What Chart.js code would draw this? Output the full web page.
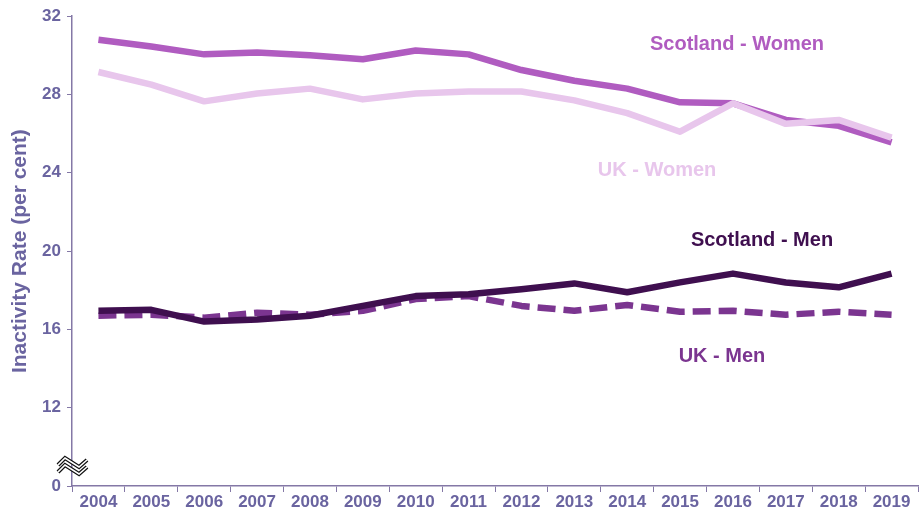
<!DOCTYPE html>
<html>
<head>
<meta charset="utf-8">
<script src="https://cdn.jsdelivr.net/npm/chart.js@4.4.1/dist/chart.umd.min.js"></script>
<style>
  html, body { margin: 0; padding: 0; background: #fff; }
  #wrap { width: 922px; height: 513px; position: relative; }
</style>
</head>
<body>
<div id="wrap"><canvas id="chart"></canvas></div>
<script>
/* ─── Data ─── */
const years = ['2004', '2005', '2006', '2007', '2008', '2009', '2010', '2011',
               '2012', '2013', '2014', '2015', '2016', '2017', '2018', '2019'];

const scotlandWomen = [30.8, 30.45, 30.05, 30.15, 30.0, 29.8, 30.25, 30.05,
                       29.25, 28.7, 28.3, 27.6, 27.55, 26.7, 26.4, 25.55];
const ukWomen       = [29.15, 28.5, 27.65, 28.05, 28.3, 27.75, 28.05, 28.15,
                       28.15, 27.7, 27.05, 26.1, 27.55, 26.5, 26.7, 25.8];
const scotlandMen   = [16.95, 17.0, 16.4, 16.5, 16.7, 17.2, 17.7, 17.8,
                       18.05, 18.35, 17.9, 18.4, 18.85, 18.4, 18.15, 18.85];
const ukMen         = [16.7, 16.75, 16.6, 16.85, 16.75, 16.95, 17.55, 17.7,
                       17.2, 16.95, 17.25, 16.9, 16.95, 16.75, 16.9, 16.75];

// axis is broken: the lowest tick (8 on the scale) is labelled 0
const yTicks = [8, 12, 16, 20, 24, 28, 32];
const yTickLabels = ['0', '12', '16', '20', '24', '28', '32'];

/* ─── Styles ─── */
const AXIS = '#8478a6';
const TEXT = '#6a64a0';
const FONT = "'Liberation Sans', Arial, sans-serif";

const seriesLabels = [
  { text: 'Scotland - Women', x: 737, y: 44,  color: '#b05cc0' },
  { text: 'UK - Women',       x: 657, y: 170, color: '#e8c6ec' },
  { text: 'Scotland - Men',   x: 762, y: 240, color: '#3f0f4f' },
  { text: 'UK - Men',         x: 722, y: 356, color: '#7b3590' },
];

/* ─── Plugin: series labels + axis break ─── */
const annotations = {
  id: 'annotations',
  afterDraw(chart) {
    const ctx = chart.ctx;
    ctx.save();
    ctx.font = 'bold 20px ' + FONT;
    ctx.textAlign = 'center';
    ctx.textBaseline = 'middle';
    seriesLabels.forEach(l => {
      ctx.fillStyle = l.color;
      ctx.fillText(l.text, l.x, l.y);
    });

    // axis break mark
    const zig = (oy) => {
      ctx.beginPath();
      ctx.moveTo(58, oy + 4);
      ctx.lineTo(65, oy - 3);
      ctx.lineTo(79, oy + 6);
      ctx.lineTo(87, oy - 1);
    };
    [461, 468].forEach(oy => {
      zig(oy);
      ctx.lineJoin = 'miter';
      ctx.strokeStyle = '#111';
      ctx.lineWidth = 4;
      ctx.stroke();
      zig(oy);
      ctx.strokeStyle = '#fff';
      ctx.lineWidth = 1.6;
      ctx.stroke();
    });
    ctx.restore();
  }
};

const line = (label, data, color, extra = {}) => ({
  label, data,
  borderColor: color,
  backgroundColor: color,
  borderWidth: 6.5,
  pointRadius: 0,
  tension: 0,
  fill: false,
  borderJoinStyle: 'round',
  ...extra,
});

new Chart(document.getElementById('chart'), {
  type: 'line',
  data: {
    labels: years,
    datasets: [
      line('UK - Women', ukWomen, '#e8c6ec'),
      line('Scotland - Women', scotlandWomen, '#b05cc0'),
      line('Scotland - Men', scotlandMen, '#3f0f4f'),
      line('UK - Men', ukMen, '#7b3590', { borderDash: [18, 8] }),
    ],
  },
  options: {
    responsive: true,
    maintainAspectRatio: false,
    animation: false,
    layout: { padding: { top: 16, right: 4, left: 0, bottom: 0 } },
    plugins: {
      legend: { display: false },
      tooltip: { enabled: false },
    },
    scales: {
      x: {
        offset: true,
        afterFit: s => { s.height = 27; },
        grid: {
          offset: true,
          drawOnChartArea: false,
          drawTicks: true,
          tickLength: 6,
          color: AXIS,
        },
        border: { color: AXIS, width: 1.5 },
        ticks: {
          color: TEXT,
          font: { family: FONT, size: 17, weight: 'bold' },
          padding: 0,
          maxRotation: 0,
          autoSkip: false,
        },
      },
      y: {
        min: 8,
        max: 32,
        afterFit: s => { s.width = 72; },
        afterBuildTicks: s => { s.ticks = yTicks.map(v => ({ value: v })); },
        grid: {
          drawOnChartArea: false,
          drawTicks: true,
          tickLength: 5,
          color: AXIS,
        },
        border: { color: AXIS, width: 1.5 },
        ticks: {
          color: TEXT,
          font: { family: FONT, size: 17, weight: 'bold' },
          padding: 6,
          callback: v => yTickLabels[yTicks.indexOf(v)],
        },
        title: {
          display: true,
          text: 'Inactivity Rate (per cent)',
          color: TEXT,
          font: { family: FONT, size: 21, weight: 'bold' },
          padding: { top: 8, bottom: 0 },
        },
      },
    },
  },
  plugins: [annotations],
});
</script>
</body>
</html>
